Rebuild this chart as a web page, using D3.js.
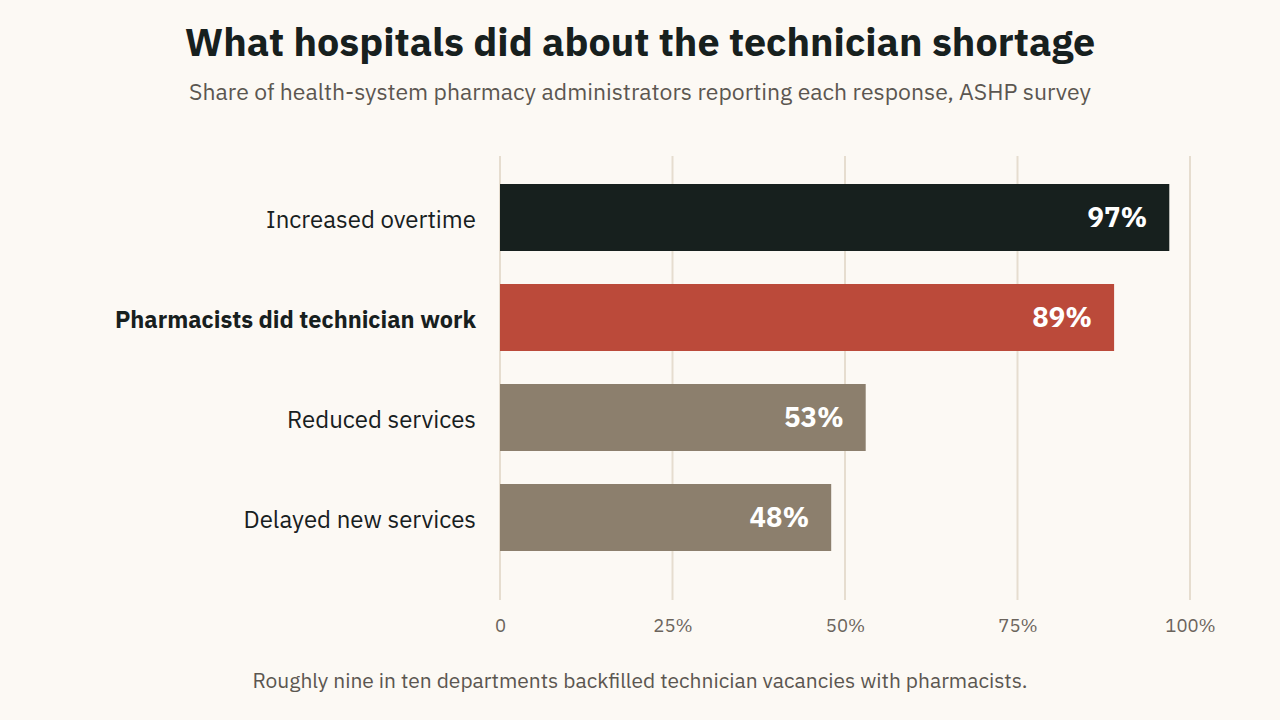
<!DOCTYPE html>
<html>
<head>
<meta charset="utf-8">
<script src="https://cdn.jsdelivr.net/npm/d3@7"></script>
<style>
  body { margin: 0; background: #fcf9f4; }
  svg text { font-family: "IBM Plex Sans", "Noto Sans", sans-serif; }
</style>
</head>
<body>
<div id="chart"></div>
<script>
var categories = ["Increased overtime", "Pharmacists did technician work", "Reduced services", "Delayed new services"];
var values = [97, 89, 53, 48];
var barColors = ["#17201e", "#bb4a3a", "#8c7f6d", "#8c7f6d"];
var tickValues = [0, 25, 50, 75, 100];
var tickLabels = ["0", "25%", "50%", "75%", "100%"];

var svgWidth = 1280;
var svgHeight = 720;

var svg = d3.select("#chart")
  .append("svg")
  .attr("width", svgWidth)
  .attr("height", svgHeight);

svg.append("rect")
  .attr("width", svgWidth)
  .attr("height", svgHeight)
  .attr("fill", "#fcf9f4");

// title + subtitle
svg.append("text")
  .attr("x", 640)
  .attr("y", 56)
  .attr("text-anchor", "middle")
  .style("font-size", "39.5px")
  .style("font-weight", "700")
  .attr("fill", "#17201e")
  .text("What hospitals did about the technician shortage");

svg.append("text")
  .attr("x", 640)
  .attr("y", 100)
  .attr("text-anchor", "middle")
  .style("font-size", "23px")
  .attr("fill", "#5b5650")
  .text("Share of health-system pharmacy administrators reporting each response, ASHP survey");

// scales
var xScale = d3.scaleLinear()
  .domain([0, 100])
  .range([500, 1190]);

var yScale = d3.scaleBand()
  .domain(categories)
  .range([167.5, 567.5])
  .paddingInner(0.33)
  .paddingOuter(0.165);

// gridlines
svg.append("g")
  .selectAll("line")
  .data(tickValues)
  .enter()
  .append("line")
  .attr("x1", d => xScale(d))
  .attr("x2", d => xScale(d))
  .attr("y1", 156)
  .attr("y2", 600)
  .attr("stroke", "#e6ddcf")
  .attr("stroke-width", 2);

// x axis labels
var xAxis = d3.axisBottom(xScale)
  .tickValues(tickValues)
  .tickFormat((d, i) => tickLabels[i])
  .tickSize(0)
  .tickPadding(0);

var axisG = svg.append("g")
  .attr("transform", "translate(0, 619)")
  .call(xAxis);
axisG.select(".domain").remove();
axisG.selectAll("text")
  .style("font-size", "18.5px")
  .style("font-family", "\"IBM Plex Sans\", \"Noto Sans\", sans-serif")
  .attr("fill", "#6b645c");

// bars
var rows = categories.map((c, i) => ({ name: c, value: values[i], color: barColors[i] }));

svg.append("g")
  .selectAll("rect")
  .data(rows)
  .enter()
  .append("rect")
  .attr("x", xScale(0))
  .attr("y", d => yScale(d.name))
  .attr("width", d => xScale(d.value) - xScale(0))
  .attr("height", yScale.bandwidth())
  .attr("fill", d => d.color);

// value labels inside the bars
svg.append("g")
  .selectAll("text")
  .data(rows)
  .enter()
  .append("text")
  .attr("x", d => xScale(d.value) - 22)
  .attr("y", d => yScale(d.name) + yScale.bandwidth() / 2)
  .attr("dy", "0.35em")
  .attr("text-anchor", "end")
  .style("font-size", "27.5px")
  .style("font-weight", "700")
  .attr("fill", "#ffffff")
  .text(d => d.value + "%");

// category labels
svg.append("g")
  .selectAll("text")
  .data(rows)
  .enter()
  .append("text")
  .attr("x", 476)
  .attr("y", d => yScale(d.name) + yScale.bandwidth() / 2 + 2)
  .attr("dy", "0.35em")
  .attr("text-anchor", "end")
  .style("font-size", (d, i) => i === 1 ? "23.5px" : "24px")
  .style("font-weight", (d, i) => i === 1 ? "700" : "400")
  .attr("fill", "#17201e")
  .text(d => d.name);

// footnote
svg.append("text")
  .attr("x", 640)
  .attr("y", 688)
  .attr("text-anchor", "middle")
  .style("font-size", "21px")
  .attr("fill", "#5b5650")
  .text("Roughly nine in ten departments backfilled technician vacancies with pharmacists.");
</script>
</body>
</html>
